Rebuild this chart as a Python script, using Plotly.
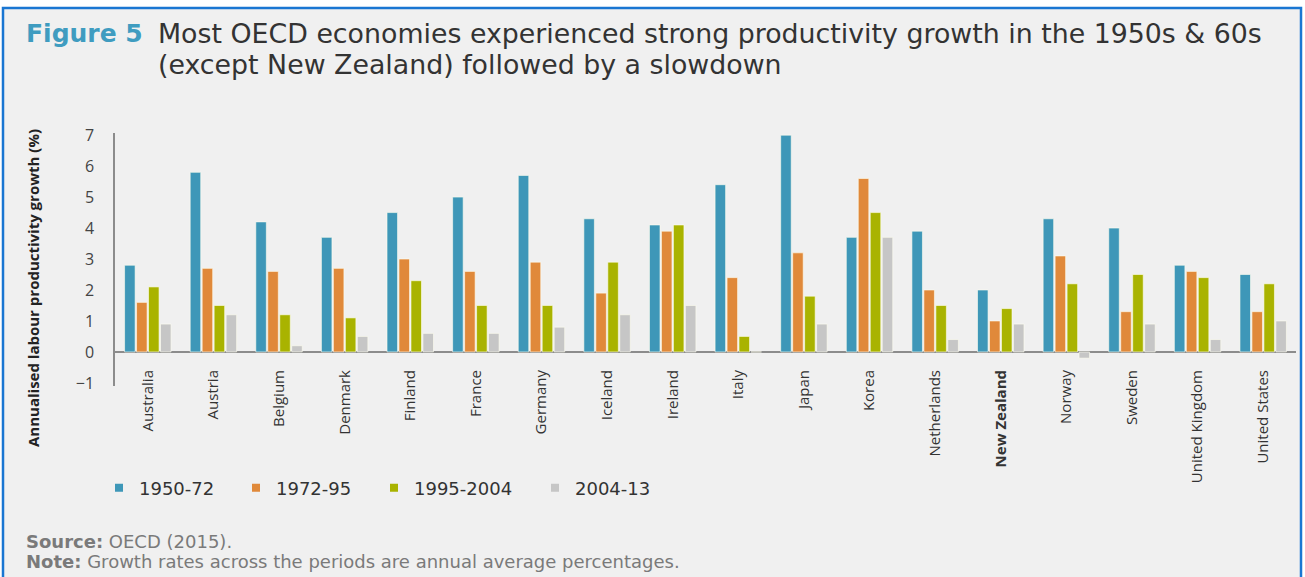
import plotly.graph_objects as go

# Annualised labour productivity growth (%) by country and period
countries = ["Australia", "Austria", "Belgium", "Denmark", "Finland", "France",
             "Germany", "Iceland", "Ireland", "Italy", "Japan", "Korea",
             "Netherlands", "New Zealand", "Norway", "Sweden",
             "United Kingdom", "United States"]
periods = ["1950-72", "1972-95", "1995-2004", "2004-13"]

g_1950_72 = [2.8, 5.8, 4.2, 3.7, 4.5, 5.0, 5.7, 4.3, 4.1, 5.4, 7.0, 3.7, 3.9, 2.0, 4.3, 4.0, 2.8, 2.5]
g_1972_95 = [1.6, 2.7, 2.6, 2.7, 3.0, 2.6, 2.9, 1.9, 3.9, 2.4, 3.2, 5.6, 2.0, 1.0, 3.1, 1.3, 2.6, 1.3]
g_1995_2004 = [2.1, 1.5, 1.2, 1.1, 2.3, 1.5, 1.5, 2.9, 4.1, 0.5, 1.8, 4.5, 1.5, 1.4, 2.2, 2.5, 2.4, 2.2]
g_2004_13 = [0.9, 1.2, 0.2, 0.5, 0.6, 0.6, 0.8, 1.2, 1.5, 0.0, 0.9, 3.7, 0.4, 0.9, -0.2, 0.9, 0.4, 1.0]

series = [g_1950_72, g_1972_95, g_1995_2004, g_2004_13]
colors = ["#3e97b8", "#e0893a", "#a9b300", "#c6c6c6"]

y_ticks = [-1, 0, 1, 2, 3, 4, 5, 6, 7]

# tick labels, with New Zealand highlighted
tick_text = ["<b>%s</b>" % c if c == "New Zealand" else c for c in countries]

W, H = 1305, 577
ML, MR, MT, MB = 115, 9, 133, 191
PW, PH = W - ML - MR, H - MT - MB
WIDE = "DejaVu Sans, Verdana, sans-serif"


def px(x):
    return (x - ML) / PW


def py(y):
    return (H - MB - y) / PH


# left edge of each legend entry
legend_x = [99, 236, 374, 535]
legend_ids = ["legend", "legend2", "legend3", "legend4"]

fig = go.Figure()
for name, vals, col, lid in zip(periods, series, colors, legend_ids):
    fig.add_trace(go.Bar(
        x=countries, y=vals, name=name, showlegend=False,
        marker=dict(color=col, line=dict(color="rgba(255,255,240,0.6)", width=1)),
    ))
    # small square legend keys
    fig.add_trace(go.Scatter(
        x=[None], y=[None], mode="markers", name=name, legend=lid,
        marker=dict(symbol="square", size=8, color=col),
    ))

legend_style = dict(orientation="h", xanchor="left", yanchor="middle",
                    font=dict(size=18, color="#333", family=WIDE),
                    bgcolor="rgba(0,0,0,0)")
legends = {lid: dict(legend_style, x=px(lx), y=py(488))
           for lid, lx in zip(legend_ids, legend_x)}

fig.update_layout(
    width=W, height=H,
    margin=dict(l=ML, r=MR, t=MT, b=MB),
    paper_bgcolor="white",
    plot_bgcolor="rgba(0,0,0,0)",
    barmode="group",
    bargap=0.27,
    bargroupgap=0.12,
    font=dict(family="Open Sans, sans-serif", color="#333"),
    xaxis=dict(
        anchor="free", position=py(366), showline=False, ticks="",
        tickmode="array", tickvals=countries, ticktext=tick_text,
        tickangle=-90, tickfont=dict(size=15, color="#333"),
        showgrid=False, zeroline=False,
    ),
    yaxis=dict(
        range=[-1.1, 7.07], tickvals=y_ticks, showgrid=False,
        showline=True, linecolor="#8c8c8c", linewidth=1.5,
        zeroline=True, zerolinecolor="#8c8c8c", zerolinewidth=1.5,
        ticks="outside", ticklen=16, tickcolor="rgba(0,0,0,0)",
        tickfont=dict(size=16, color="#444"),
    ),
    **legends,
)

# framed panel
fig.add_shape(type="rect", xref="paper", yref="paper",
              x0=px(3), x1=px(1301), y0=py(600), y1=py(8),
              line=dict(color="#1976d2", width=2.5), fillcolor="#f0f0f0",
              layer="below")

# heading
fig.add_annotation(xref="paper", yref="paper", x=px(24), y=py(33),
                   xanchor="left", yanchor="middle", showarrow=False,
                   text="<b>Figure 5</b>",
                   font=dict(size=25, color="#3f9cc0", family=WIDE))
fig.add_annotation(xref="paper", yref="paper", x=px(156), y=py(33),
                   xanchor="left", yanchor="middle", showarrow=False,
                   text="Most OECD economies experienced strong productivity growth in the 1950s &amp; 60s",
                   font=dict(size=26.8, color="#333", family=WIDE))
fig.add_annotation(xref="paper", yref="paper", x=px(156), y=py(64),
                   xanchor="left", yanchor="middle", showarrow=False,
                   text="(except New Zealand) followed by a slowdown",
                   font=dict(size=26.8, color="#333", family=WIDE))

# axis title
fig.add_annotation(xref="paper", yref="paper", x=px(33), y=py(288),
                   xanchor="center", yanchor="middle", showarrow=False,
                   textangle=-90,
                   text="<b>Annualised labour productivity growth (%)</b>",
                   font=dict(size=15, color="#222", family="Open Sans, sans-serif"))

# source and note
fig.add_annotation(xref="paper", yref="paper", x=px(24), y=py(541),
                   xanchor="left", yanchor="middle", showarrow=False,
                   text="<b>Source:</b> OECD (2015).",
                   font=dict(size=18, color="#7a7a7a", family=WIDE))
fig.add_annotation(xref="paper", yref="paper", x=px(24), y=py(561),
                   xanchor="left", yanchor="middle", showarrow=False,
                   text="<b>Note:</b> Growth rates across the periods are annual average percentages.",
                   font=dict(size=18, color="#7a7a7a", family=WIDE))

fig.write_html("out.html")
